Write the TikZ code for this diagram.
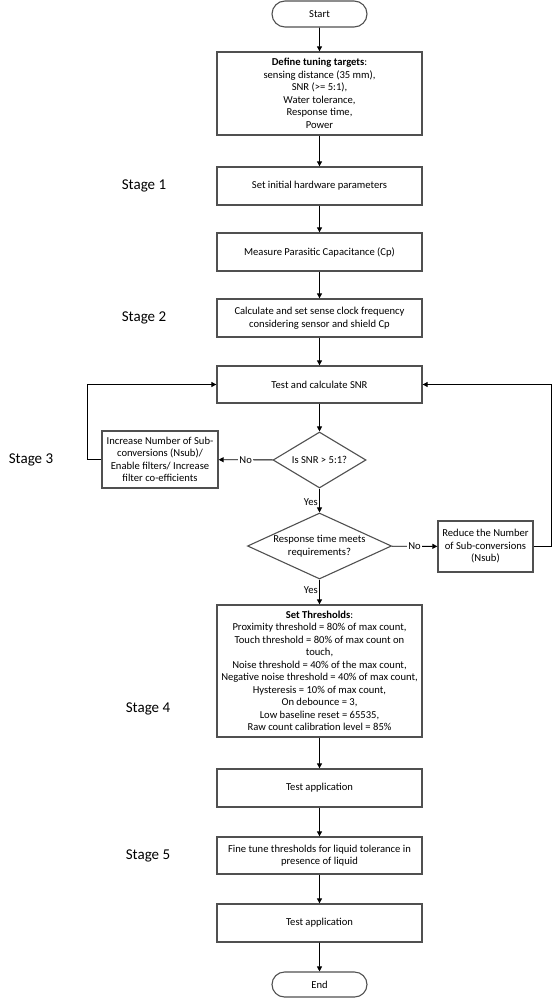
\documentclass[tikz,border=0pt]{standalone}
\usepackage{fontspec}
\setmainfont{Carlito}
\usetikzlibrary{shapes.geometric,shapes.misc,arrows.meta}
\definecolor{boxline}{HTML}{505050}
\begin{document}
\begin{tikzpicture}[x=1pt,y=-1pt,
  every node/.style={font=\fontsize{10.6}{12.5}\selectfont},
  procbox/.style={draw=boxline,line width=1.3pt,rectangle,inner sep=0pt,align=center,minimum width=205pt},
  termbox/.style={draw=boxline,line width=1.1pt,rounded rectangle,inner sep=0pt,minimum width=95pt},
  decbox/.style={draw=boxline,line width=1.1pt,diamond,inner sep=0pt,align=center},
  stagelbl/.style={font=\fontsize{15}{18}\selectfont},
  conn/.style={draw=black,line width=0.9pt,-{Triangle[length=5pt,width=5pt]}},
  lbl/.style={fill=white,inner sep=1pt}]
\useasboundingbox (0,0) rectangle (552,998);
\node[termbox,minimum height=26pt] (start) at (319.5,14) {Start};
\node[procbox,minimum height=83pt] (define) at (319.5,93.5) {\textbf{Define tuning targets}:\\sensing distance (35 mm),\\SNR (>= 5:1),\\Water tolerance,\\Response time,\\Power};
\node[procbox,minimum height=38pt] (s1) at (319.5,186) {Set initial hardware parameters};
\node[procbox,minimum height=38pt] (meas) at (319.5,252) {Measure Parasitic Capacitance (Cp)};
\node[procbox,minimum height=38pt] (calc) at (319.5,318) {Calculate and set sense clock frequency\\considering sensor and shield Cp};
\node[procbox,minimum height=37pt] (test) at (319.5,384.5) {Test and calculate SNR};
\node[decbox,minimum width=93pt,minimum height=56pt,aspect=1.66] (snr) at (319.5,460) {Is SNR > 5:1?};
\node[procbox,minimum width=116pt,minimum height=57pt] (inc) at (160,459.5) {Increase Number of Sub-\\conversions (Nsub)/\\Enable filters/ Increase\\filter co-efficients};
\node[decbox,minimum width=144pt,minimum height=66pt,aspect=2.2] (resp) at (319.5,546) {Response time meets\\requirements?};
\node[procbox,minimum width=95pt,minimum height=51pt] (red) at (485.5,546.5) {Reduce the Number\\of Sub-conversions\\(Nsub)};
\node[procbox,minimum height=132pt] (thr) at (319.5,671) {\textbf{Set Thresholds}:\\Proximity threshold = 80\% of max count,\\Touch threshold = 80\% of max count on\\touch,\\Noise threshold = 40\% of the max count,\\Negative noise threshold = 40\% of max count,\\Hysteresis = 10\% of max count,\\On debounce = 3,\\Low baseline reset = 65535,\\Raw count calibration level = 85\%};
\node[procbox,minimum height=38pt] (ta1) at (319.5,788) {Test application};
\node[procbox,minimum height=37pt] (fine) at (319.5,855.5) {Fine tune thresholds for liquid tolerance in\\presence of liquid};
\node[procbox,minimum height=38pt] (ta2) at (319.5,923) {Test application};
\node[termbox,minimum height=25pt] (end) at (319.5,984.5) {End};
\node[stagelbl] (st1) at (144,186) {Stage 1};
\node[stagelbl] (st2) at (144,318) {Stage 2};
\node[stagelbl] (st3) at (31,460) {Stage 3};
\node[stagelbl] (st4) at (148,709) {Stage 4};
\node[stagelbl] (st5) at (148,856) {Stage 5};
\coordinate (lc) at (87,459.5);
\coordinate (rc) at (551,546.5);
\path[conn] (start) -- (define);
\path[conn] (define) -- (s1);
\path[conn] (s1) -- (meas);
\path[conn] (meas) -- (calc);
\path[conn] (calc) -- (test);
\path[conn] (test) -- (snr);
\path[conn] (snr) -- node[lbl] (no1) {No} (inc);
\path[conn] (snr) -- (resp);
\node[anchor=east,inner sep=0pt] (yes1) at (318,502) {Yes};
\path[conn] (resp) -- node[lbl] (no2) {No} (red);
\path[conn] (resp) -- (thr);
\node[anchor=east,inner sep=0pt] (yes2) at (318,590) {Yes};
\path[conn] (inc.west) -- (lc) |- (test.west);
\path[conn] (red.east) -- (rc) |- (test.east);
\path[conn] (thr) -- (ta1);
\path[conn] (ta1) -- (fine);
\path[conn] (fine) -- (ta2);
\path[conn] (ta2) -- (end);
\end{tikzpicture}
\end{document}
